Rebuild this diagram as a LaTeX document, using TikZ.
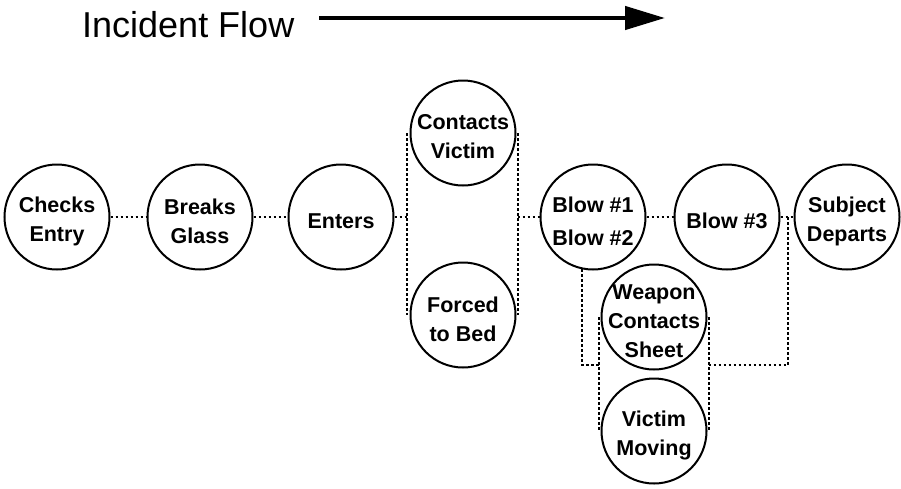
\documentclass[tikz,border=0pt]{standalone}
\usepackage{fontspec}
\usetikzlibrary{arrows.meta, positioning}
\newfontfamily\arialfont{Liberation Sans}
\newcommand{\evfont}{\arialfont\bfseries\fontsize{21.5}{29}\selectfont}
\newcommand{\flowfont}{\arialfont\fontsize{36}{40}\selectfont}
\tikzset{
  event/.style={circle, draw, line width=2pt, minimum size=105pt, inner sep=0pt,
    label={[font=\evfont, align=center, inner sep=0pt, yshift=-4pt]center:#1}},
  link/.style={line width=2pt, dash pattern=on 2.5pt off 2.5pt}
}

\begin{document}
\begin{tikzpicture}[x=1pt, y=-1pt]
            \useasboundingbox (0,0) rectangle (901,488);

            % Title and flow arrow
            \node[anchor=base west, font=\flowfont, inner sep=0pt] (title) at (82,37) {Incident Flow};
            \coordinate (flowA) at (319,18);
            \coordinate (flowB) at (665,18);
            \draw[-{Triangle[length=40pt, width=23pt]}, line width=4.5pt] (flowA) -- (flowB);

            % Events
            \node[event={Checks\\Entry}] (checks) at (57,217) {};
            \node[event={Breaks\\Glass}] (breaks) at (200,217) {};
            \node[event={Enters}] (enters) at (341,217) {};
            \node[event={Contacts\\Victim}] (contacts) at (463,133) {};
            \node[event={Forced\\to Bed}] (forced) at (463,315) {};
            \node[event={{Blow \#1\\[4pt]Blow \#2}}] (blows) at (593,217) {};
            \node[event={Blow \#3}] (blow3) at (727,217) {};
            \node[event={Subject\\Departs}] (departs) at (847,217) {};
            \node[event={Weapon\\Contacts\\Sheet}] (weapon) at (654,317) {};
            \node[event={Victim\\Moving}] (moving) at (654,431) {};

            % Sequence links
            \draw[link] (checks) -- (breaks);
            \draw[link] (breaks) -- (enters);

            % Parallel pair: contacts victim / forced to bed
            \coordinate (pairL) at ([xshift=-3pt]contacts.west);
            \coordinate (pairR) at ([xshift=1pt]contacts.east);
            \draw[link] (pairL) -- (pairL |- forced.west);
            \draw[link] (pairR) -- (pairR |- forced.east);
            \draw[link] (enters.east) -- (enters.east -| pairL);
            \draw[link] (pairR |- blows.west) -- (blows.west);

            \draw[link] (blows) -- (blow3);
            \draw[link] (blow3) -- (departs);

            % Parallel pair: weapon contacts sheet / victim moving
            \coordinate (sideL) at ([xshift=-2pt]weapon.west);
            \coordinate (sideR) at ([xshift=1pt]weapon.east);
            \coordinate (join) at (654,365);
            \coordinate (merge) at (788,217);
            \draw[link] (sideL) -- (sideL |- moving.west);
            \draw[link] (sideR) -- (sideR |- moving.east);
            \draw[link] (blows.258) |- (sideL |- join);
            \draw[link] (sideR |- join) -| (merge);
\end{tikzpicture}
\end{document}
